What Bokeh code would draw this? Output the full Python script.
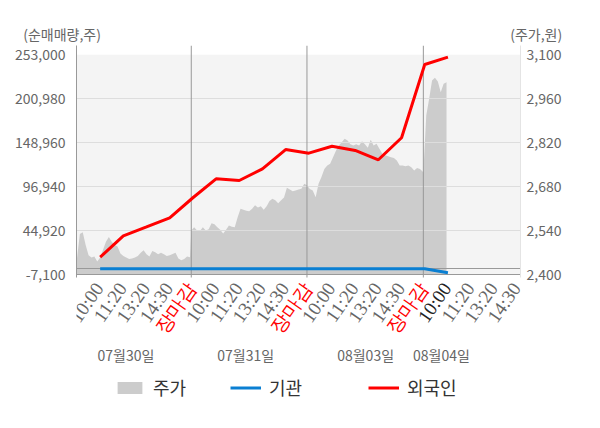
from bokeh.plotting import figure
from bokeh.layouts import column
from bokeh.models import (Range1d, LinearAxis, FixedTicker, ColumnDataSource,
                          LabelSet, Label, Legend, LegendItem, NumeralTickFormatter)
from bokeh.embed import file_html
from bokeh.resources import INLINE

# ---------------- data ----------------
tick_labels = ["10:00", "11:20", "13:20", "14:30", "장마감",
               "10:00", "11:20", "13:20", "14:30", "장마감",
               "10:00", "11:20", "13:20", "14:30", "장마감",
               "10:00", "11:20", "13:20", "14:30"]
dates = ["07월30일", "07월31일", "08월03일", "08월04일"]

# net buying (shares), one value per labelled time slot 1..16
foreign = [13700, 39000, 49600, 60300, 84000, 106400, 104400, 118200,
           141000, 136700, 144900, 139900, 128900, 154900, 241500, 250200]
institution = [0, 0, 0, 0, 0, 0, 0, 0, 0, 0, 0, 0, 0, 0, 0, -4700]

# share price (won), intraday samples per day
price_day1 = [2452, 2530, 2535, 2495, 2462, 2455, 2458, 2442, 2455, 2480,
              2505, 2520, 2505, 2495, 2490, 2468, 2460, 2455, 2450, 2452,
              2455, 2460, 2470, 2478, 2465, 2458, 2476, 2472, 2465, 2470,
              2465, 2460, 2462, 2466, 2470, 2452, 2446, 2450, 2458, 2456]
price_day2 = [2541, 2551, 2541, 2539, 2551, 2541, 2545, 2564, 2561, 2551,
              2543, 2531, 2543, 2557, 2553, 2551, 2583, 2610, 2607, 2604,
              2602, 2610, 2621, 2614, 2618, 2607, 2618, 2635, 2642, 2637,
              2628, 2637, 2646, 2677, 2671, 2666, 2668, 2671, 2674, 2690]
price_day3 = [2685, 2673, 2668, 2647, 2690, 2711, 2737, 2748, 2753, 2774,
              2795, 2811, 2822, 2833, 2827, 2815, 2811, 2815, 2811, 2825,
              2815, 2804, 2830, 2811, 2817, 2801, 2785, 2780, 2777, 2774,
              2772, 2764, 2748, 2748, 2745, 2748, 2742, 2732, 2740, 2737]
price_day4 = [2726, 2907, 2960, 3018, 3027, 3015, 2981, 3008, 3013]

left_ticks = [-7100, 44920, 96940, 148960, 200980, 253000]
right_ticks = [2400, 2540, 2680, 2820, 2960, 3100]

# ---------------- layout ----------------
FONT = "Noto Sans CJK KR"
W = 600
HEAD_H = 45
MAIN_H = 380
X_START, X_END = -0.02, 19.13
Y_BOUNDS = (-10300, 264000)
Y_START = -185274
P_BOUNDS = (2391.4, 3129.6)
P_START = 1920.4
DAY_START = [0.0, 4.93, 9.92, 14.94]
STEP = 0.125
DAY_LINES = [4.93, 9.92, 14.94]
DATE_X = [2.11, 7.28, 12.45, 15.72]

px, py = [], []
for d, arr in enumerate([price_day1, price_day2, price_day3, price_day4]):
    for i, v in enumerate(arr):
        px.append(DAY_START[d] + i * STEP)
        py.append(v)

slots = list(range(1, len(foreign) + 1))

# ---------- header strip (unit titles) ----------
head = figure(width=W, height=HEAD_H, output_backend="svg", toolbar_location=None,
              x_range=Range1d(0, W), y_range=Range1d(HEAD_H, 0),
              x_axis_location=None, y_axis_location=None,
              min_border=0, outline_line_color=None,
              background_fill_color="white", border_fill_color="white")
head.frame_align = False
head.xgrid.visible = False
head.ygrid.visible = False
head.add_layout(Label(x=22.7, y=33.3, text="(순매매량,주)", text_align="left",
                      text_baseline="middle", text_font=FONT, text_font_size="14px",
                      text_color="#666666"))
head.add_layout(Label(x=561.7, y=33.3, text="(주가,원)", text_align="right",
                      text_baseline="middle", text_font=FONT, text_font_size="14px",
                      text_color="#666666"))

# ---------- main chart ----------
p = figure(width=W, height=MAIN_H, output_backend="svg", toolbar_location=None,
           x_range=Range1d(X_START, X_END), y_range=Range1d(Y_START, Y_BOUNDS[1]),
           x_axis_location=None,
           min_border_left=76, min_border_right=80, min_border_top=0,
           min_border_bottom=0, outline_line_color=None,
           background_fill_color="white", border_fill_color="white")
p.frame_align = False
p.extra_y_ranges = {"price": Range1d(P_START, P_BOUNDS[1])}
p.xgrid.visible = False
p.ygrid.visible = False

# plot background
p.quad(left=[X_START], right=[X_END], bottom=[left_ticks[0]], top=[left_ticks[-1]],
       fill_color="#f4f4f4", line_color=None)

# price area
area = p.varea(x=px, y1=[right_ticks[0]] * len(px), y2=py, y_range_name="price",
               fill_color="#cccccc")

# grid / reference lines
p.hspan(y=left_ticks[1:-1], line_color="#dddddd", line_width=1)
p.hspan(y=[0, left_ticks[0]], line_color="#999999", line_width=1)
p.segment(x0=DAY_LINES, x1=DAY_LINES, y0=[Y_BOUNDS[0]] * 3, y1=[Y_BOUNDS[1]] * 3,
          line_color="#999999", line_width=1)

inst_r = p.line(slots, institution, line_color="#0a7fd2", line_width=3)
frgn_r = p.line(slots, foreign, line_color="#ff0000", line_width=3)

# axes
ya = p.yaxis[0]
ya.ticker = FixedTicker(ticks=left_ticks)
ya.formatter = NumeralTickFormatter(format="0,0")
ya.bounds = Y_BOUNDS
ra = LinearAxis(y_range_name="price", ticker=FixedTicker(ticks=right_ticks),
                formatter=NumeralTickFormatter(format="0,0"), bounds=P_BOUNDS)
p.add_layout(ra, "right")
for ax in [ya, ra]:
    ax.major_tick_line_color = None
    ax.minor_tick_line_color = None
    ax.major_tick_out = 0
    ax.major_tick_in = 0
    ax.major_label_text_font = FONT
    ax.major_label_text_font_size = "14px"
    ax.major_label_text_color = "#666666"
ya.axis_line_color = "#999999"
ya.major_label_standoff = 11
ra.axis_line_color = "#e4e4e4"
ra.major_label_standoff = 6

# x tick labels (time slots, market close in red)
colors = []
for i, t in enumerate(tick_labels):
    if t == "장마감":
        colors.append("#ff0000")
    elif i == len(foreign) - 1:
        colors.append("#222222")
    else:
        colors.append("#666666")
tsrc = ColumnDataSource(dict(x=list(range(1, len(tick_labels) + 1)), text=tick_labels,
                             color=colors))
p.add_layout(LabelSet(x="x", y=left_ticks[0], text="text", source=tsrc,
                      text_color="color", angle=0.96, text_align="right",
                      text_baseline="middle", y_offset=-10, x_offset=-1,
                      text_font=FONT, text_font_size="19px"))

for dx, dt in zip(DATE_X, dates):
    p.add_layout(Label(x=dx, y=left_ticks[0], y_offset=-80, text=dt,
                       text_align="center", text_baseline="middle",
                       text_font=FONT, text_font_size="14px", text_color="#666666"))

# legends
for name, rend, lx in [("주가", area, 38), ("기관", inst_r, 154), ("외국인", frgn_r, 292)]:
    lg = Legend(items=[LegendItem(label=name, renderers=[rend])],
                location=(lx, 25), orientation="horizontal",
                glyph_width=31, glyph_height=15, label_height=20,
                label_standoff=8, padding=0, margin=0, spacing=0,
                border_line_color=None, background_fill_alpha=0,
                label_text_font=FONT, label_text_font_size="18px",
                label_text_color="#333333")
    p.add_layout(lg, "center")

layout = column(head, p, spacing=0)
open("out.html", "w").write(file_html(layout, INLINE))
